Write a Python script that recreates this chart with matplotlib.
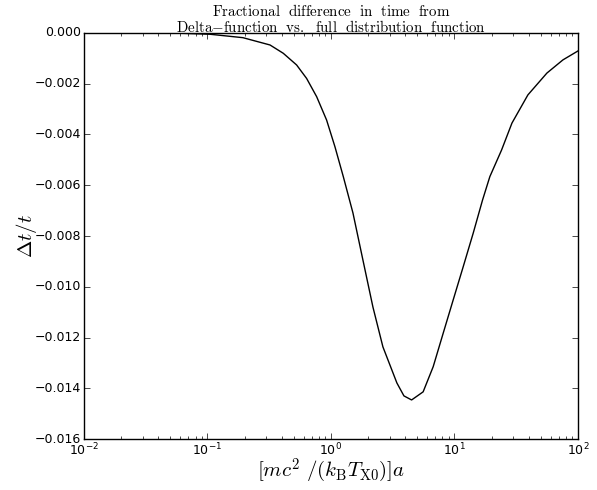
import matplotlib
matplotlib.use("Agg")
import matplotlib.pyplot as plt
from matplotlib.ticker import FuncFormatter

# ------------------------------------------------------------
# data
# ------------------------------------------------------------
x_vals = [0.01, 0.0342, 0.0598, 0.1047, 0.1936, 0.321, 0.411, 0.527,
          0.635, 0.766, 0.922, 1.077, 1.259, 1.507, 1.816, 2.188, 2.636,
          3.420, 3.90, 4.50, 5.58, 6.73, 8.11, 9.77, 11.78, 14.19, 16.90,
          19.36, 24.1, 29.24, 39.36, 56.10, 75.68, 100.0]
dt_over_t = [0.0, 0.0, -0.00001, -0.00005, -0.000185, -0.000473, -0.0008,
             -0.00126, -0.00179, -0.00251, -0.00343, -0.00448, -0.00566,
             -0.00709, -0.00895, -0.0108, -0.01237, -0.01379, -0.01430,
             -0.01446, -0.01414, -0.01315, -0.01183, -0.01052, -0.00921,
             -0.00789, -0.00658, -0.00566, -0.00461, -0.00355, -0.00244,
             -0.00158, -0.00106, -0.00071]

TITLE = (r"$\mathrm{Fractional\ \ difference\ \ in\ \ time\ \ from}$" "\n"
         r"$\mathrm{Delta{-}function\ \ vs.\ \ full\ \ distribution\ \ function}$")
XLABEL = r"$[mc^2\ /(k_\mathrm{B}T_\mathrm{X0})]a$"
YLABEL = r"$\Delta t/t$"

# ------------------------------------------------------------
# figure
# ------------------------------------------------------------
plt.style.use("classic")
plt.rcParams["figure.facecolor"] = "white"
plt.rcParams["savefig.facecolor"] = "white"

fig = plt.figure(figsize=(5.97, 4.9), dpi=100)
ax = fig.add_axes([0.1407, 0.104, 0.8273, 0.8287])

ax.plot(x_vals, dt_over_t, color="black", lw=1.0)
ax.set_xscale("log")
ax.set_xlim(1e-2, 1e2)
ax.set_ylim(-0.016, 0.0)
ax.set_yticks([-0.016 + 0.002 * i for i in range(9)])
ax.yaxis.set_major_formatter(FuncFormatter(lambda v, p: ("%.3f" % v).replace("-", "\u2212")))
ax.tick_params(axis="both", which="major", labelsize=9, pad=2)

ax.set_title(TITLE, fontsize=10.8, math_fontfamily="cm", linespacing=1.0, pad=1)
ax.set_xlabel(XLABEL, fontsize=15, math_fontfamily="cm", labelpad=-1)
ax.set_ylabel(YLABEL, fontsize=15, math_fontfamily="cm", labelpad=-3)

fig.savefig("out.png", dpi=100)
